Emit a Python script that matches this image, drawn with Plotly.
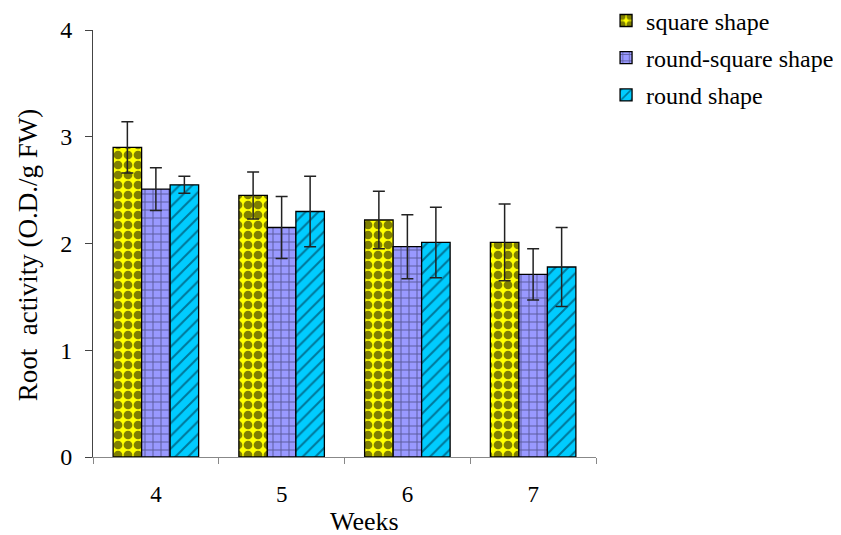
import plotly.graph_objects as go

weeks = ["4", "5", "6", "7"]
series_names = ["square shape", "round-square shape", "round shape"]
square_vals = [2.90, 2.45, 2.22, 2.01]
square_err = [0.24, 0.22, 0.27, 0.36]
roundsq_vals = [2.51, 2.15, 1.97, 1.71]
roundsq_err = [0.20, 0.29, 0.30, 0.24]
round_vals = [2.55, 2.30, 2.01, 1.78]
round_err = [0.08, 0.33, 0.33, 0.37]
x_title = "Weeks"
y_title = "Root  activity (O.D./g FW)"

values = [square_vals, roundsq_vals, round_vals]
errors = [square_err, roundsq_err, round_err]
bg_colors = ["#FFFF00", "#9999FF", "#00CCFF"]
fg_colors = ["#000000", "#1a1a33", "#002233"]
shapes = [".", "+", "/"]
sizes = [10, 8, 9]
solids = [0.6, 0.22, 0.22]

fig = go.Figure()
for i, (name, v, e, bg, fg, sh, sz, so) in enumerate(zip(series_names, values, errors, bg_colors, fg_colors, shapes, sizes, solids)):
    fig.add_trace(go.Bar(
        x=weeks, y=v, name=name, legendgroup=f"g{i}",
        marker=dict(color=bg, line=dict(color="black", width=1.3),
                    pattern=dict(shape=sh, fgcolor=fg, bgcolor=bg, size=sz, solidity=so, fillmode="overlay")),
        error_y=dict(type="data", array=e, visible=True, color="#222222", thickness=1.5, width=6),
    ))

font = "Liberation Serif, Times New Roman, serif"
fig.update_layout(
    width=841, height=535,
    barmode="group", bargap=0.32, bargroupgap=0,
    plot_bgcolor="white", paper_bgcolor="white",
    margin=dict(l=85, r=253, t=22, b=86, autoexpand=False),
    font=dict(family=font, size=23, color="black"),
    legend=dict(x=1.02, y=1.074, xanchor="left", yanchor="top",
                font=dict(family=font, size=24), itemwidth=30, tracegroupgap=3,
                bgcolor="rgba(0,0,0,0)"),
    showlegend=True,
    annotations=[
        dict(text=x_title, xref="paper", yref="paper", x=0.539, y=-0.152,
             xanchor="center", yanchor="middle", showarrow=False,
             font=dict(family=font, size=26, color="black")),
        dict(text=y_title, xref="paper", yref="paper", x=-0.129, y=0.473,
             xanchor="center", yanchor="middle", showarrow=False, textangle=-90,
             font=dict(family=font, size=27, color="black")),
    ],
)
fig.update_xaxes(
    type="category", showline=True, linecolor="#888888", linewidth=1,
    ticks="outside", tickson="boundaries", ticklen=6, tickcolor="#888888",
    ticklabelstandoff=16, showgrid=False, automargin=False,
    tickfont=dict(size=23),
)
fig.update_yaxes(
    range=[0, 4], dtick=1, showline=True, linecolor="#444444", linewidth=1,
    ticks="outside", ticklen=7, tickcolor="#444444", showgrid=False, zeroline=False,
    automargin=False, ticklabelstandoff=8,
    tickfont=dict(size=24),
)
fig.write_html("out.html")
